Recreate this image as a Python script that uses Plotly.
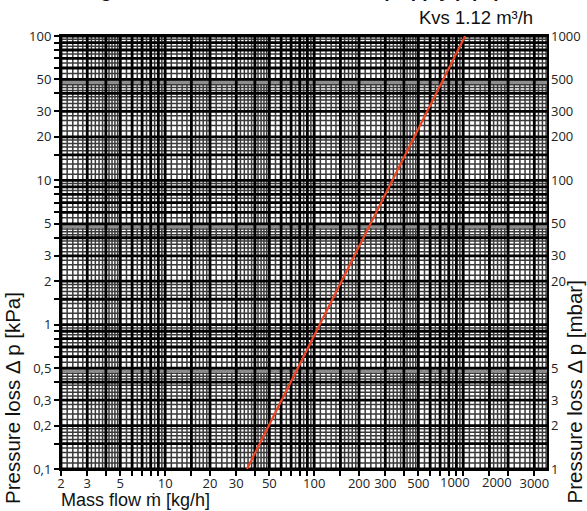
import numpy as np
import plotly.graph_objects as go

# ---------------- data ----------------
mass_flow_kgh = [35.4, 1030.0]          # x of the Kvs line
pressure_loss_kpa = [0.1, 100.0]         # y of the Kvs line

x_tick_vals = [2, 3, 5, 10, 20, 30, 50, 100, 200, 300, 500, 1000, 2000, 3000]
x_tick_text = ["2", "3", "5", "10", "20", "30", "50", "100", "200", "300", "500", "1000", "2000", "3000"]

y_kpa_tick_vals = [0.1, 0.2, 0.3, 0.5, 1, 2, 3, 5, 10, 20, 30, 50, 100]
y_kpa_tick_text = ["0,1", "0,2", "0,3", "0,5", "1", "2", "3", "5", "10", "20", "30", "50", "100"]

y_mbar_tick_vals = [1, 2, 3, 5, 20, 30, 50, 100, 200, 300, 500, 1000]
y_mbar_tick_text = ["1", "2", "3", "5", "20", "30", "50", "100", "200", "300", "500", "1000"]

kvs_label = "Kvs 1.12 m³/h"
x_title = "Mass flow ṁ [kg/h]"
y_title_left = "Pressure loss Δ p [kPa]"
y_title_right = "Pressure loss Δ p [mbar]"
top_title = "Pressure loss diagram for the flow control valve (supply pipe)"

# labels that the printed chart sets slightly left of their tick (style, px)
x_label_shift = {1000: -8, 2000: -11}

# ---------------- axes ranges ----------------
X_MIN, X_MAX = 2.0, 3650.0
Y_MIN, Y_MAX = 0.1, 100.0

# ---------------- log-paper grid (style) ----------------
heavy_mult = [1, 1.5, 2, 3, 4, 5, 6, 7, 8, 9]
thin_mult = ([1 + 0.1 * i for i in range(1, 10)] +
             [2 + 0.2 * i for i in range(1, 15)] +
             [5 + 0.5 * i for i in range(1, 10)])


def positions(mults, lo, hi):
    out = []
    for k in range(-3, 5):
        for m in mults:
            v = m * 10 ** k
            if lo * 0.999 <= v <= hi * 1.001:
                out.append(v)
    return out


def vlines(vals):
    xs, ys = [], []
    for v in vals:
        xs += [v, v, None]
        ys += [Y_MIN, Y_MAX, None]
    return xs, ys


def hlines(vals):
    xs, ys = [], []
    for v in vals:
        xs += [X_MIN, X_MAX, None]
        ys += [v, v, None]
    return xs, ys


fig = go.Figure()

heavy_x = positions(heavy_mult, X_MIN, X_MAX)
heavy_y = positions(heavy_mult, Y_MIN, Y_MAX)
thin_x = [v for v in positions(thin_mult, X_MIN, X_MAX) if all(abs(v / h - 1) > 1e-6 for h in heavy_x)]
thin_y = [v for v in positions(thin_mult, Y_MIN, Y_MAX) if all(abs(v / h - 1) > 1e-6 for h in heavy_y)]

for xs, ys in (vlines(thin_x), hlines(thin_y)):
    fig.add_trace(go.Scatter(x=xs, y=ys, mode="lines", line=dict(color="#3a3a3a", width=1.5),
                             hoverinfo="skip", showlegend=False))

# grey bands just below each 5-line
band_y = [v * 0.968 for v in positions([5], Y_MIN, Y_MAX)]
bx, by = hlines(band_y)
fig.add_trace(go.Scatter(x=bx, y=by, mode="lines", line=dict(color="#8c8c8c", width=5),
                         hoverinfo="skip", showlegend=False))

for xs, ys in (vlines(heavy_x), hlines(heavy_y)):
    fig.add_trace(go.Scatter(x=xs, y=ys, mode="lines", line=dict(color="#000000", width=2.8),
                             hoverinfo="skip", showlegend=False))

# the Kvs line
fig.add_trace(go.Scatter(x=mass_flow_kgh, y=pressure_loss_kpa, mode="lines",
                         line=dict(color="#ee4422", width=2.2), showlegend=False))

# dummy trace for right axis
fig.add_trace(go.Scatter(x=[X_MIN], y=[1], yaxis="y2", mode="markers",
                         marker=dict(opacity=0), hoverinfo="skip", showlegend=False))


def tick_set(heavy, vals, texts, skip=()):
    tv, tt = [], []
    for h in heavy:
        tv.append(h)
        lab = ""
        for v, t in zip(vals, texts):
            if abs(v / h - 1) < 1e-6 and v not in skip:
                lab = t
        tt.append(lab)
    return tv, tt


xtv, xtt = tick_set(heavy_x, x_tick_vals, x_tick_text, skip=tuple(x_label_shift))
ytv, ytt = tick_set(heavy_y, y_kpa_tick_vals, y_kpa_tick_text)

tickfont = dict(family="Open Sans", size=13, color="#222222")
title_font = dict(family="Liberation Sans, Arial", size=18, color="#111111")
vtitle_font = dict(family="Liberation Sans, Arial", size=20.5, color="#111111")

L, R, T, B = 61, 40, 36, 42
W, H = 587, 511
pw, ph = W - L - R, H - T - B


def px2paper_x(px):
    return (px - L) / pw


def px2paper_y(py):
    return (H - B - py) / ph


annotations = [
    dict(text=kvs_label, xref="paper", yref="paper",
         x=px2paper_x(535), y=px2paper_y(17), xanchor="right", yanchor="middle",
         showarrow=False, font=dict(family="Liberation Sans, Arial", size=18.5, color="#111111")),
    dict(text=x_title, xref="paper", yref="paper",
         x=px2paper_x(59), y=px2paper_y(500), xanchor="left", yanchor="middle",
         showarrow=False, font=title_font),
    dict(text=y_title_left, xref="paper", yref="paper", textangle=-90,
         x=px2paper_x(12), y=px2paper_y(506), xanchor="center", yanchor="bottom",
         showarrow=False, font=vtitle_font),
    dict(text=y_title_right, xref="paper", yref="paper", textangle=-90,
         x=px2paper_x(574), y=px2paper_y(506), xanchor="center", yanchor="bottom",
         showarrow=False, font=vtitle_font),
    dict(text="<b>" + top_title + "</b>", xref="paper", yref="paper",
         x=px2paper_x(502), y=px2paper_y(3.5), xanchor="right", yanchor="bottom",
         showarrow=False, font=dict(family="Liberation Sans, Arial", size=19, color="#111111")),
]
for v, t in zip(x_tick_vals, x_tick_text):
    if v in x_label_shift:
        annotations.append(dict(text=t, xref="x", yref="paper", x=np.log10(v), xshift=x_label_shift[v],
                                y=px2paper_y(482), xanchor="center", yanchor="middle",
                                showarrow=False, font=tickfont))

fig.update_layout(
    width=W, height=H,
    margin=dict(l=L, r=R, t=T, b=B, pad=0, autoexpand=False),
    paper_bgcolor="white", plot_bgcolor="white",
    xaxis=dict(type="log", range=[np.log10(X_MIN), np.log10(X_MAX)],
               tickmode="array", tickvals=xtv, ticktext=xtt,
               ticks="outside", ticklen=5, tickwidth=2, tickcolor="black",
               showgrid=False, zeroline=False, automargin=False,
               showline=True, linecolor="black", linewidth=2, mirror=True,
               tickfont=tickfont, tickangle=0, ticklabelstandoff=-4),
    yaxis=dict(type="log", range=[np.log10(Y_MIN), np.log10(Y_MAX)],
               tickmode="array", tickvals=ytv, ticktext=ytt,
               ticks="outside", ticklen=5, tickwidth=2, tickcolor="black",
               showgrid=False, zeroline=False, automargin=False,
               showline=True, linecolor="black", linewidth=2, mirror=True,
               tickfont=tickfont),
    yaxis2=dict(type="log", range=[0, 3], overlaying="y", side="right",
                tickmode="array", tickvals=y_mbar_tick_vals, ticktext=y_mbar_tick_text,
                ticks="", showgrid=False, zeroline=False, showline=False, automargin=False,
                tickfont=tickfont, ticklabelstandoff=3),
    annotations=annotations,
)

fig.write_html("out.html", config={"displayModeBar": False},
               post_script="document.body.style.margin='0';document.body.style.overflow='hidden';")
